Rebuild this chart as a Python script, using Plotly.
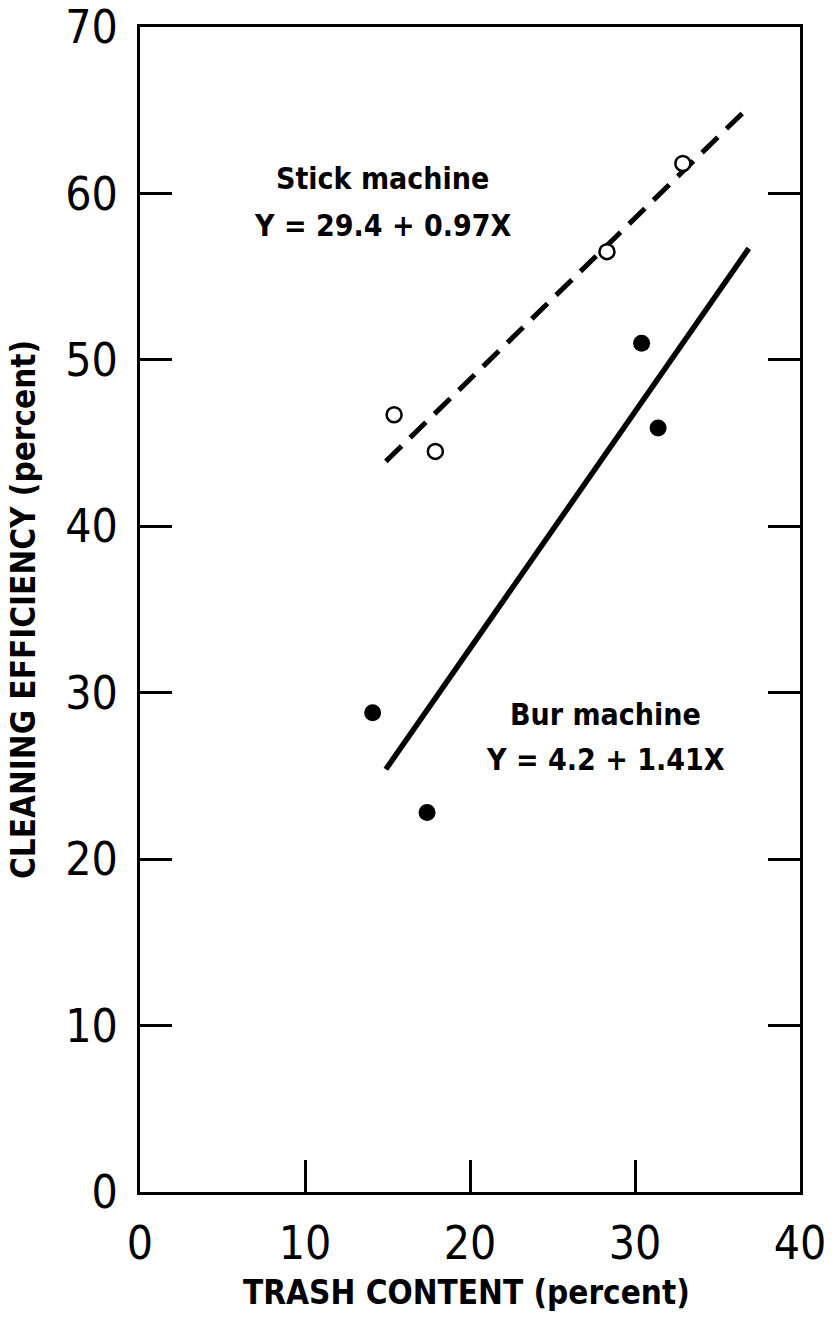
import plotly.graph_objects as go

# ---- data ----
stick_x = [15.4, 17.9, 28.3, 32.9]
stick_y = [46.7, 44.5, 56.5, 61.8]
bur_x = [14.1, 17.4, 30.4, 31.4]
bur_y = [28.8, 22.8, 51.0, 45.9]

stick_line_x = [14.9, 36.8]
stick_line_y = [43.9, 65.1]
bur_line_x = [14.9, 36.9]
bur_line_y = [25.4, 56.7]

x_ticks = [0, 10, 20, 30, 40]
y_ticks = [0, 10, 20, 30, 40, 50, 60, 70]

x_title = "TRASH CONTENT (percent)"
y_title = "CLEANING EFFICIENCY (percent)"
stick_label = "Stick machine"
stick_eq = "Y = 29.4 + 0.97X"
bur_label = "Bur machine"
bur_eq = "Y = 4.2 + 1.41X"

TICKFONT = dict(family="DejaVu Sans Condensed, sans-serif", size=46, color="black")
TEXTFONT = dict(family="DejaVu Sans Condensed, sans-serif", size=30, color="black", weight="bold")
TITLEFONT = dict(family="DejaVu Sans Condensed, sans-serif", size=33, color="black", weight="bold")

fig = go.Figure()

fig.add_trace(go.Scatter(x=stick_line_x, y=stick_line_y, mode="lines",
                         line=dict(color="black", width=5, dash="22px,12px"),
                         showlegend=False, hoverinfo="skip"))
fig.add_trace(go.Scatter(x=bur_line_x, y=bur_line_y, mode="lines",
                         line=dict(color="black", width=5.5),
                         showlegend=False, hoverinfo="skip"))
fig.add_trace(go.Scatter(x=stick_x, y=stick_y, mode="markers",
                         marker=dict(symbol="circle", size=15, color="white",
                                     line=dict(color="black", width=2.5)),
                         showlegend=False))
fig.add_trace(go.Scatter(x=bur_x, y=bur_y, mode="markers",
                         marker=dict(symbol="circle", size=17, color="black",
                                     line=dict(color="black", width=0)),
                         showlegend=False))

fig.add_annotation(x=14.7, y=60.9, text=stick_label, showarrow=False, font=TEXTFONT,
                   xanchor="center", yanchor="middle")
fig.add_annotation(x=14.7, y=58.1, text=stick_eq, showarrow=False, font=TEXTFONT,
                   xanchor="center", yanchor="middle")
fig.add_annotation(x=28.2, y=28.7, text=bur_label, showarrow=False, font=TEXTFONT,
                   xanchor="center", yanchor="middle")
fig.add_annotation(x=28.2, y=26.0, text=bur_eq, showarrow=False, font=TEXTFONT,
                   xanchor="center", yanchor="middle")

# axis titles
fig.add_annotation(xref="paper", yref="paper", x=0.494, y=-0.0865, text=x_title,
                   showarrow=False, font=TITLEFONT, xanchor="center", yanchor="middle")
fig.add_annotation(xref="paper", yref="paper", x=-0.1773, y=0.5004, text=y_title,
                   showarrow=False, font=TITLEFONT, textangle=-90,
                   xanchor="center", yanchor="middle")

fig.update_xaxes(range=[0, 40], tickvals=x_ticks, ticktext=[str(v) for v in x_ticks],
                 ticks="inside", ticklen=32, tickwidth=3, tickcolor="black",
                 showline=True, linewidth=3, linecolor="black", mirror=True,
                 showgrid=False, zeroline=False, tickfont=TICKFONT,
                 ticklabelstandoff=9, ticklabeloverflow="allow")
fig.update_yaxes(range=[0, 70], tickvals=y_ticks, ticktext=[str(v) for v in y_ticks],
                 ticks="inside", ticklen=32, tickwidth=3, tickcolor="black",
                 showline=True, linewidth=3, linecolor="black", mirror="ticks",
                 showgrid=False, zeroline=False, tickfont=TICKFONT,
                 ticklabelstandoff=10, ticklabeloverflow="allow")

# plot box at x 140..800, y 27..1192 in the 839x1317 window (page margin removed)
fig.update_layout(width=839, height=1317,
                  margin=dict(l=140, r=39, t=27, b=125, autoexpand=False),
                  plot_bgcolor="white", paper_bgcolor="white",
                  showlegend=False)

fig.write_html("out.html",
               config={"displayModeBar": False},
               post_script="document.body.style.margin='0';document.body.style.overflow='hidden';")
